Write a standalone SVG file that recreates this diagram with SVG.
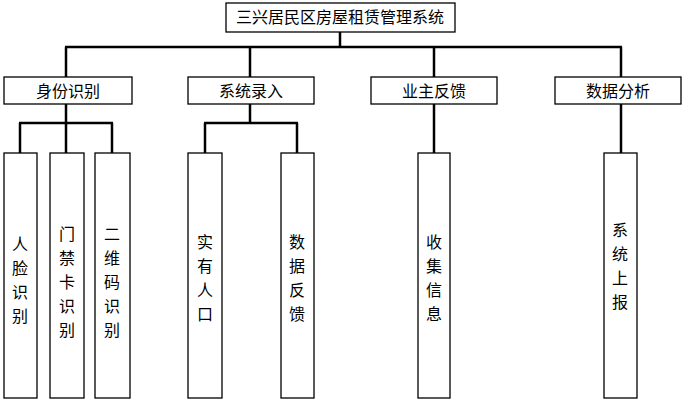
<svg xmlns="http://www.w3.org/2000/svg" width="684" height="407" viewBox="0 0 684 407">
<style>
rect{fill:#fff;stroke:#000;stroke-width:1.3}
.c line{stroke:#000;stroke-width:2.5}
text{font-family:"Noto Sans CJK SC",sans-serif;font-size:16px;text-anchor:middle;fill:#000}
</style>
<rect x="0" y="0" width="684" height="407" style="stroke:none"/>
<g class="c">
<line x1="340" y1="32" x2="340" y2="47"/>
<line x1="65" y1="47" x2="622" y2="47"/>
<line x1="66" y1="47" x2="66" y2="77"/><line x1="250" y1="47" x2="250" y2="77"/>
<line x1="434" y1="47" x2="434" y2="77"/><line x1="621" y1="47" x2="621" y2="77"/>
<line x1="66" y1="104" x2="66" y2="153"/><line x1="19" y1="123" x2="113" y2="123"/>
<line x1="20" y1="123" x2="20" y2="153"/><line x1="112" y1="123" x2="112" y2="153"/>
<line x1="250" y1="104" x2="250" y2="123"/><line x1="204" y1="123" x2="298" y2="123"/>
<line x1="205" y1="123" x2="205" y2="153"/><line x1="297" y1="123" x2="297" y2="153"/>
<line x1="434" y1="104" x2="434" y2="153"/><line x1="621" y1="104" x2="621" y2="153"/>
</g>
<g id="root"><rect x="226" y="3" width="229" height="29"/><text x="340" y="23">三兴居民区房屋租赁管理系统</text></g>
<g id="n1"><rect x="4" y="77" width="128" height="27"/><text x="68" y="97">身份识别</text></g>
<g id="n2"><rect x="188" y="77" width="126" height="27"/><text x="251" y="97">系统录入</text></g>
<g id="n3"><rect x="371" y="77" width="126" height="27"/><text x="434" y="97">业主反馈</text></g>
<g id="n4"><rect x="555" y="77" width="126" height="27"/><text x="618" y="97">数据分析</text></g>
<g id="l1"><rect x="4" y="153" width="33" height="245"/><text x="20"><tspan x="20" y="250">人</tspan><tspan x="20" y="274">脸</tspan><tspan x="20" y="298">识</tspan><tspan x="20" y="322">别</tspan></text></g>
<g id="l2"><rect x="50" y="153" width="34" height="245"/><text><tspan x="67" y="240">门</tspan><tspan x="67" y="264">禁</tspan><tspan x="67" y="288">卡</tspan><tspan x="67" y="312">识</tspan><tspan x="67" y="336">别</tspan></text></g>
<g id="l3"><rect x="95" y="153" width="35" height="245"/><text><tspan x="112" y="240">二</tspan><tspan x="112" y="264">维</tspan><tspan x="112" y="288">码</tspan><tspan x="112" y="312">识</tspan><tspan x="112" y="336">别</tspan></text></g>
<g id="l4"><rect x="188" y="153" width="34" height="245"/><text><tspan x="205" y="248">实</tspan><tspan x="205" y="272">有</tspan><tspan x="205" y="296">人</tspan><tspan x="205" y="320">口</tspan></text></g>
<g id="l5"><rect x="281" y="153" width="33" height="245"/><text><tspan x="297" y="248">数</tspan><tspan x="297" y="272">据</tspan><tspan x="297" y="296">反</tspan><tspan x="297" y="320">馈</tspan></text></g>
<g id="l6"><rect x="418" y="153" width="32" height="245"/><text><tspan x="434" y="248">收</tspan><tspan x="434" y="272">集</tspan><tspan x="434" y="296">信</tspan><tspan x="434" y="320">息</tspan></text></g>
<g id="l7"><rect x="604" y="153" width="33" height="245"/><text><tspan x="620" y="236">系</tspan><tspan x="620" y="260">统</tspan><tspan x="620" y="284">上</tspan><tspan x="620" y="308">报</tspan></text></g>
</svg>
